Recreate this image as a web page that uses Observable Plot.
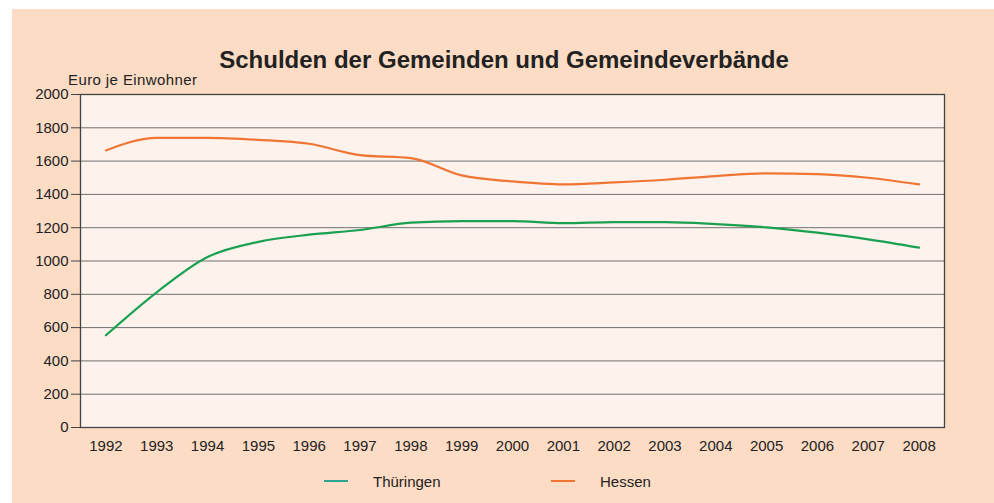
<!DOCTYPE html>
<html>
<head>
<meta charset="utf-8">
<script src="https://cdn.jsdelivr.net/npm/d3@7"></script>
<script src="https://cdn.jsdelivr.net/npm/@observablehq/plot@0.6"></script>
<style>
  html, body { margin: 0; padding: 0; background: #ffffff; }
  #wrap { position: relative; width: 994px; height: 503px; overflow: hidden; font-family: "Liberation Sans", Arial, sans-serif; }
  #bg { position: absolute; left: 12px; top: 9px; right: 0; bottom: 0; background: #fddcc5; }
  #chart { position: absolute; left: 0; top: 0; }
  #title { position: absolute; left: 0; width: 1008px; top: 46px; text-align: center; font-weight: bold; font-size: 24px; color: #222; }
  #ylab { position: absolute; left: 68px; top: 71px; font-size: 15px; letter-spacing: 0.4px; color: #222; }
  .leg { position: absolute; top: 473px; font-size: 15px; color: #222; }
  .sw { position: absolute; height: 2px; top: 480px; }
</style>
</head>
<body>
<div id="wrap">
  <div id="bg"></div>
  <div id="chart"></div>
  <div id="title"></div>
  <div id="ylab"></div>
  <div id="legend"></div>
</div>
<script>
const years = [1992,1993,1994,1995,1996,1997,1998,1999,2000,2001,2002,2003,2004,2005,2006,2007,2008];
const thueringen = [554,812,1024,1115,1158,1186,1230,1240,1240,1228,1234,1234,1222,1202,1170,1130,1080];
const hessen = [1664,1740,1740,1728,1704,1636,1618,1514,1478,1460,1472,1488,1510,1526,1522,1500,1460];
const yTicks = [0,200,400,600,800,1000,1200,1400,1600,1800,2000];
const seriesNames = ["Thüringen", "Hessen"];
const lineColors = ["#19a050", "#f07534"];
const swatchColors = ["#2aa596", "#f07534"];
const titleText = "Schulden der Gemeinden und Gemeindeverbände";
const yLabelText = "Euro je Einwohner";

const rows = [];
years.forEach((y, i) => {
  rows.push({year: y, value: thueringen[i], series: seriesNames[0]});
  rows.push({year: y, value: hessen[i], series: seriesNames[1]});
});

const fmt = d => String(d);

const chart = Plot.plot({
  width: 994,
  height: 503,
  marginLeft: 80,
  marginRight: 50,
  marginTop: 94,
  marginBottom: 76,
  style: {background: "transparent", fontFamily: "'Liberation Sans', Arial, sans-serif", color: "#222"},
  x: {type: "point", domain: years, padding: 0.5, round: false, label: null},
  y: {domain: [0, 2000], ticks: yTicks, label: null},
  color: {domain: seriesNames, range: lineColors},
  marks: [
    Plot.frame({fill: "#fdf3ec", stroke: null}),
    Plot.ruleY(yTicks, {stroke: "#6f6f6f", strokeWidth: 1, strokeOpacity: 1}),
    Plot.line(rows, {x: "year", y: "value", stroke: "series", strokeWidth: 2.2, curve: "monotone-x"}),
    Plot.frame({stroke: "#444", strokeWidth: 1.3}),
    Plot.axisY({ticks: yTicks, tickFormat: fmt, tickSize: 9, tickPadding: 3, fontSize: 15, stroke: "#444"}),
    Plot.axisX({tickFormat: fmt, tickSize: 0, tickPadding: 13, fontSize: 15})
  ]
});
document.getElementById("chart").appendChild(chart);
document.getElementById("title").textContent = titleText;
document.getElementById("ylab").textContent = yLabelText;

const legend = document.getElementById("legend");
const legX = [{sw: 324, text: 373}, {sw: 551, text: 600}];
seriesNames.forEach((name, i) => {
  const sw = document.createElement("div");
  sw.className = "sw";
  sw.style.left = legX[i].sw + "px";
  sw.style.width = "24px";
  sw.style.background = swatchColors[i];
  legend.appendChild(sw);
  const t = document.createElement("div");
  t.className = "leg";
  t.style.left = legX[i].text + "px";
  t.textContent = name;
  legend.appendChild(t);
});
</script>
</body>
</html>
